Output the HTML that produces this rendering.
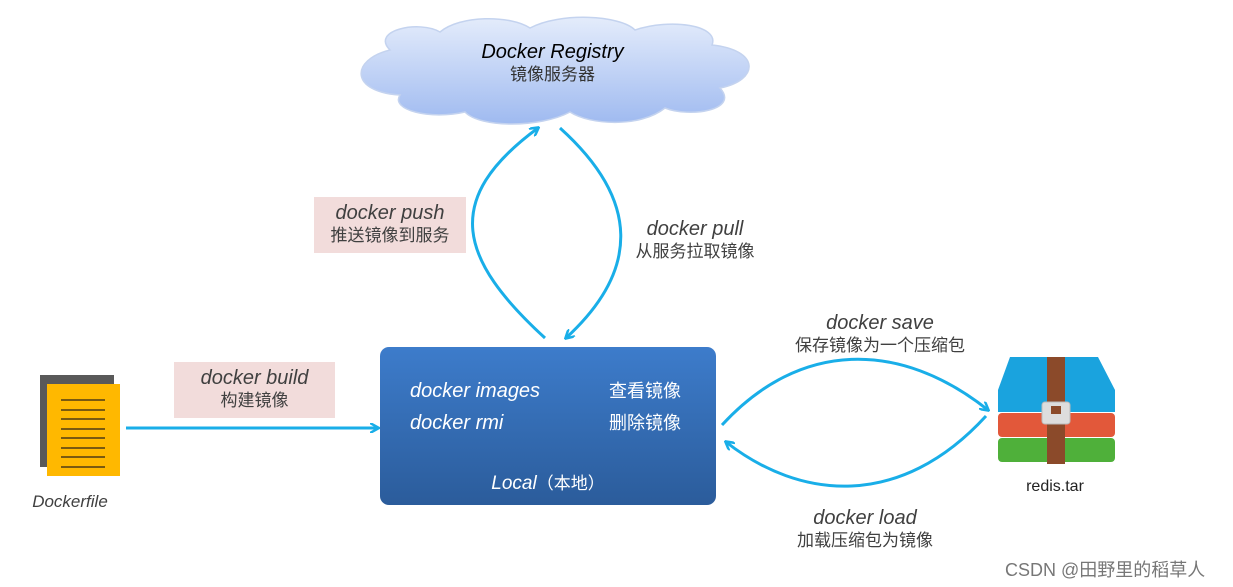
<!DOCTYPE html>
<html><head><meta charset="utf-8"><style>
body{margin:0;width:1233px;height:587px;background:#fff;position:relative;overflow:hidden;font-family:"Liberation Sans","Noto Sans CJK SC",sans-serif}
.a{position:absolute;text-align:center;color:#404040}
.lab{position:absolute;background:#f2dcdb;text-align:center;color:#404040}
.t1{font-size:20px;font-family:"Liberation Sans",sans-serif;font-style:italic;line-height:24px}
.t2{font-size:17px;line-height:22px}
</style></head><body>
<svg width="1233" height="587" style="position:absolute;left:0;top:0">
<defs>
<linearGradient id="cg" x1="0" y1="0" x2="0" y2="1"><stop offset="0" stop-color="#e4ecfb"/><stop offset="1" stop-color="#9fbaf0"/></linearGradient>
<linearGradient id="bg" x1="0" y1="0" x2="0" y2="1"><stop offset="0" stop-color="#3d7ccb"/><stop offset="1" stop-color="#2b5c9b"/></linearGradient>
<marker id="ar" markerWidth="10" markerHeight="10" refX="8" refY="5" orient="auto" markerUnits="userSpaceOnUse"><path d="M0,0 L9,5 L0,10" fill="none" stroke="#19aee8" stroke-width="2.5"/></marker>
</defs>
<path d="M390,50 C370,30 420,20 440,32 C460,15 510,15 530,28 C560,12 620,15 635,30 C670,18 720,25 712,45 C760,50 760,80 720,88 C740,110 690,118 665,108 C640,128 590,125 570,112 C540,128 480,128 465,112 C430,120 390,110 400,95 C350,92 350,60 390,50 Z" fill="url(#cg)" stroke="#c4d3ef" stroke-width="1.5"/>
<rect x="380" y="347" width="336" height="158" rx="9" fill="url(#bg)"/>
<g fill="none" stroke="#19aee8" stroke-width="3">
<path d="M545,338 C460,260 440,200 538,128" marker-end="url(#ar)"/>
<path d="M560,128 C640,200 640,270 566,338" marker-end="url(#ar)"/>
<path d="M722,425 C800,340 900,340 988,410" marker-end="url(#ar)"/>
<path d="M986,416 C900,510 800,500 726,442" marker-end="url(#ar)"/>
<path d="M126,428 L378,428" marker-end="url(#ar)"/>
</g>
<rect x="40" y="375" width="74" height="92" fill="#595959"/>
<rect x="47" y="384" width="73" height="92" fill="#ffb800"/>
<g stroke="#7a5a10" stroke-width="2">
<line x1="61" y1="400" x2="105" y2="400"/><line x1="61" y1="410" x2="105" y2="410"/><line x1="61" y1="419" x2="105" y2="419"/><line x1="61" y1="429" x2="105" y2="429"/><line x1="61" y1="438" x2="105" y2="438"/><line x1="61" y1="448" x2="105" y2="448"/><line x1="61" y1="457" x2="105" y2="457"/><line x1="61" y1="467" x2="105" y2="467"/>
</g>
<path d="M1010,357 L1098,357 L1115,390 L1115,412 L998,412 L998,390 Z" fill="#1aa3de"/>
<rect x="998" y="413" width="117" height="24" rx="4" fill="#e2583a"/>
<rect x="998" y="438" width="117" height="24" rx="4" fill="#4fb03a"/>
<rect x="1047" y="357" width="18" height="107" fill="#8b4a2a"/>
<rect x="1042" y="402" width="28" height="22" rx="3" fill="#ddd" stroke="#bbb"/>
<rect x="1051" y="406" width="10" height="8" fill="#8b4a2a"/>
</svg>
<div class="a" style="left:380px;top:40px;width:345px;color:#000"><div class="t1">Docker Registry</div><div class="t2" style="color:#333">镜像服务器</div></div>
<div class="lab" style="left:314px;top:197px;width:152px;height:56px"><div class="t1" style="margin-top:4px">docker push</div><div class="t2">推送镜像到服务</div></div>
<div class="a" style="left:620px;top:217px;width:150px"><div class="t1">docker pull</div><div class="t2">从服务拉取镜像</div></div>
<div class="lab" style="left:174px;top:362px;width:161px;height:56px"><div class="t1" style="margin-top:4px">docker build</div><div class="t2">构建镜像</div></div>
<div class="a" style="left:780px;top:311px;width:200px"><div class="t1">docker save</div><div class="t2">保存镜像为一个压缩包</div></div>
<div class="a" style="left:770px;top:506px;width:190px"><div class="t1">docker load</div><div class="t2">加载压缩包为镜像</div></div>
<div class="a t1" style="left:410px;top:379px;color:#fff;text-align:left">docker images</div>
<div class="a t1" style="left:410px;top:411px;color:#fff;text-align:left">docker rmi</div>
<div class="a t2" style="left:609px;top:380px;color:#fff;font-size:18px">查看镜像</div>
<div class="a t2" style="left:609px;top:412px;color:#fff;font-size:18px">删除镜像</div>
<div class="a" style="left:380px;top:469px;width:336px;color:#fff"><span class="t1" style="font-size:19px">Local</span><span style="font-size:17px">（本地）</span></div>
<div class="a t1" style="left:20px;top:490px;width:100px;font-size:17px">Dockerfile</div>
<div class="a" style="left:1000px;top:478px;width:110px;font-size:16px;color:#222">redis.tar</div>
<div class="a" style="left:1005px;top:556px;font-size:18px;color:#777;white-space:nowrap">CSDN @田野里的稻草人</div>
</body></html>
